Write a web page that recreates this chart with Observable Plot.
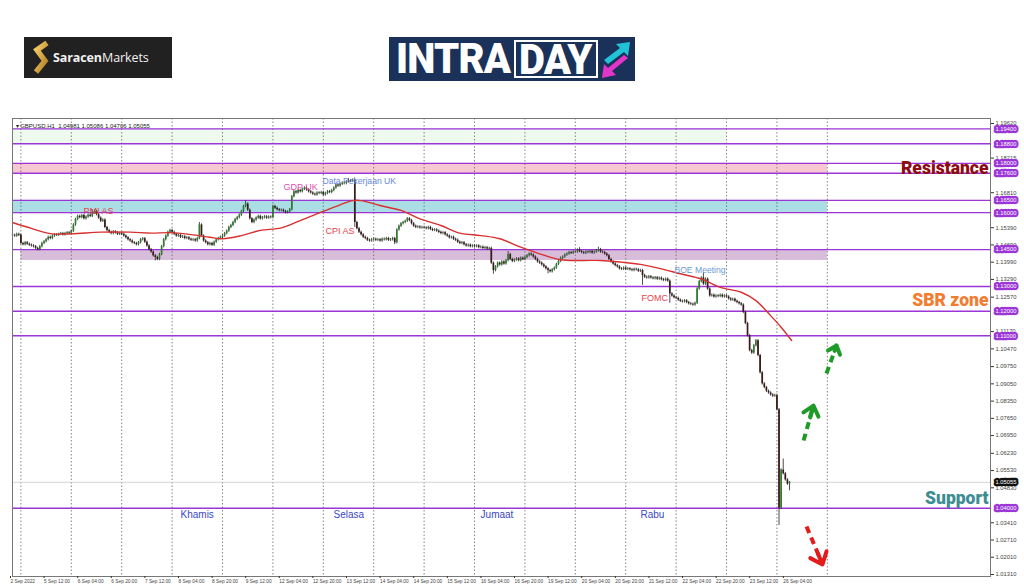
<!DOCTYPE html>
<html><head><meta charset="utf-8">
<script src="https://cdn.jsdelivr.net/npm/d3@7"></script>
<script src="https://cdn.jsdelivr.net/npm/@observablehq/plot@0.6"></script>
<style>
html,body{margin:0;padding:0;background:#fff;width:1024px;height:587px;overflow:hidden;font-family:"Liberation Sans",Arial,sans-serif;}
#hdr{position:relative;height:110px;}
#sar{position:absolute;left:24px;top:37px;width:148px;height:41px;background:#212121;}
#sar .t{position:absolute;left:29px;top:12px;color:#f2f2f2;font-family:"Open Sans","Noto Sans",sans-serif;font-size:12.5px;letter-spacing:-0.1px;white-space:nowrap;}
#sar .t b{font-weight:700;}
#intra{position:absolute;left:389px;top:37px;width:246px;height:44px;background:#1a3159;}
#intra .a{position:absolute;left:7px;top:1px;color:#fff;font-family:Roboto,"Liberation Sans",sans-serif;font-weight:900;font-size:40px;line-height:42px;letter-spacing:-0.8px;transform:scaleY(1.08);}
#intra .d{position:absolute;left:125px;top:3px;width:80px;height:34px;border:2.5px solid #fff;box-sizing:content-box;}
#intra .d span{position:absolute;left:3px;top:-3px;color:#fff;font-family:Roboto,"Liberation Sans",sans-serif;font-weight:900;font-size:40px;line-height:42px;letter-spacing:-0.8px;transform:scaleY(1.08);}
#intra svg{position:absolute;left:211px;top:3px;}
#chart{position:absolute;left:0;top:110px;}
</style></head><body>
<div id="hdr">
  <div id="sar">
    <svg width="28" height="41" style="position:absolute;left:6px;top:0">
      <defs><linearGradient id="g" x1="0" y1="0" x2="1" y2="1"><stop offset="0" stop-color="#f6d06a"/><stop offset="1" stop-color="#b07a1c"/></linearGradient></defs>
      <polyline points="17,6 7,13 15,24 6,35" fill="none" stroke="url(#g)" stroke-width="5.5" stroke-linejoin="miter"/>
    </svg>
    <div class="t"><b>Saracen</b>Markets</div>
  </div>
  <div id="intra">
    <div class="a">INTRA</div>
    <div class="d"><span>DAY</span></div>
    <svg width="33" height="40">
      <polygon points="4,20 20,8 16,4 30,2 28,16 24,12 8,24" fill="#21c4d6"/>
      <polygon points="28,18 12,31 16,35 2,38 4,24 8,28 24,15" fill="#e236c8"/>
    </svg>
  </div>
</div>
<div id="chart"></div>
<script>
// ---- chart header text
const headerText = "\u25BE GBPUSD,H1  1.04981 1.05086 1.04706 1.05055";

// ---- hourly closes (server time), one array per trading day
const c0902 = [1.1508,1.1505,1.1512,1.1508];
const c0905 = [1.1475,1.1470,1.1478,1.1472,1.1468,1.1465,1.1462,1.1455,1.1450,1.1462,1.1475,1.1482,1.1490,1.1500,1.1495,1.1505,1.1510,1.1508,1.1512,1.1515,1.1510,1.1515,1.1518,1.1515];
const c0906 = [1.1525,1.1550,1.1572,1.1585,1.1580,1.1588,1.1575,1.1582,1.1590,1.1585,1.1598,1.1605,1.1592,1.1578,1.1565,1.1570,1.1540,1.1528,1.1520,1.1515,1.1522,1.1518,1.1512,1.1515];
const c0907 = [1.1512,1.1505,1.1498,1.1490,1.1485,1.1478,1.1475,1.1470,1.1478,1.1490,1.1494,1.1480,1.1465,1.1450,1.1440,1.1425,1.1418,1.1410,1.1430,1.1462,1.1490,1.1505,1.1520,1.1528];
const c0908 = [1.1520,1.1512,1.1505,1.1508,1.1500,1.1502,1.1495,1.1498,1.1492,1.1488,1.1490,1.1485,1.1495,1.1550,1.1505,1.1485,1.1478,1.1470,1.1475,1.1468,1.1480,1.1490,1.1495,1.1500];
const c0909 = [1.1505,1.1515,1.1525,1.1540,1.1548,1.1560,1.1572,1.1580,1.1590,1.1605,1.1625,1.1635,1.1610,1.1575,1.1560,1.1570,1.1578,1.1585,1.1575,1.1580,1.1583,1.1578,1.1582,1.1580];
const c0912 = [1.1625,1.1618,1.1612,1.1608,1.1610,1.1605,1.1600,1.1603,1.1612,1.1665,1.1685,1.1680,1.1690,1.1685,1.1695,1.1700,1.1692,1.1685,1.1680,1.1675,1.1672,1.1680,1.1678,1.1682];
const c0913 = [1.1672,1.1678,1.1685,1.1682,1.1690,1.1700,1.1712,1.1708,1.1715,1.1720,1.1718,1.1725,1.1730,1.1728,1.1732,1.1560,1.1535,1.1520,1.1510,1.1500,1.1495,1.1488,1.1485,1.1490];
const c0914 = [1.1492,1.1488,1.1490,1.1485,1.1492,1.1490,1.1495,1.1488,1.1490,1.1495,1.1478,1.1530,1.1545,1.1555,1.1560,1.1565,1.1575,1.1568,1.1555,1.1545,1.1540,1.1542,1.1538,1.1540];
const c0915 = [1.1538,1.1535,1.1540,1.1532,1.1528,1.1530,1.1525,1.1520,1.1515,1.1518,1.1510,1.1505,1.1498,1.1500,1.1492,1.1488,1.1480,1.1475,1.1478,1.1470,1.1465,1.1468,1.1462,1.1465];
const c0916 = [1.1462,1.1465,1.1458,1.1460,1.1455,1.1458,1.1452,1.1455,1.1395,1.1365,1.1380,1.1395,1.1388,1.1400,1.1392,1.1405,1.1430,1.1410,1.1402,1.1408,1.1412,1.1405,1.1415,1.1410];
const c0919 = [1.1418,1.1425,1.1432,1.1428,1.1420,1.1410,1.1400,1.1395,1.1388,1.1380,1.1372,1.1365,1.1360,1.1368,1.1375,1.1390,1.1402,1.1415,1.1420,1.1428,1.1432,1.1438,1.1435,1.1440];
const c0920 = [1.1440,1.1448,1.1442,1.1438,1.1435,1.1440,1.1438,1.1442,1.1436,1.1440,1.1445,1.1450,1.1440,1.1438,1.1432,1.1425,1.1410,1.1400,1.1392,1.1385,1.1380,1.1372,1.1370,1.1375];
const c0921 = [1.1370,1.1372,1.1368,1.1365,1.1370,1.1368,1.1362,1.1365,1.1345,1.1338,1.1335,1.1340,1.1335,1.1332,1.1336,1.1330,1.1334,1.1328,1.1325,1.1330,1.1322,1.1270,1.1262,1.1255];
const c0922 = [1.1252,1.1245,1.1240,1.1238,1.1242,1.1235,1.1230,1.1228,1.1225,1.1232,1.1290,1.1320,1.1335,1.1310,1.1330,1.1290,1.1262,1.1265,1.1258,1.1262,1.1260,1.1265,1.1258,1.1262];
const c0923 = [1.1258,1.1250,1.1245,1.1248,1.1240,1.1235,1.1230,1.1225,1.1195,1.1150,1.1100,1.1040,1.1030,1.1060,1.1080,1.1020,1.0950,1.0905,1.0890,1.0875,1.0868,1.0860,1.0855,1.0858];
const c0926 = [1.0800,1.0400,1.0555,1.0540,1.0515,1.04981,1.05055];
const firstOpen = 1.1510;
const wickPad = 0.0005;
// notable wick extremes: [bar, high, low]
const extremes = [[38,1.1612,null],[68,null,1.1404],[89,1.1560,null],[111,1.1648,null],[160,1.1738,null],[163,null,1.1540],[182,null,1.1470],[229,null,1.1350],[236,1.1442,null],[255,null,1.1352],[270,1.1458,null],[279,1.1460,null],[300,null,1.1305],[313,null,1.1232],[329,1.1356,null],[365,null,1.0330],[367,1.0600,null],[370,1.05086,1.04706]];

// moving average (red line)
const maBar = [0,9,18,28,42,56,66,75,85,94,100,109,118,128,137,147,156,162,166,175,185,194,204,213,223,232,242,251,261,271,280,290,299,309,318,328,337,347,354,361,366,371];
const maVal = [1.1560,1.1536,1.1515,1.1514,1.1521,1.1521,1.1517,1.1519,1.1511,1.1500,1.1494,1.1507,1.1528,1.1538,1.1568,1.1602,1.1632,1.1649,1.1649,1.1629,1.1609,1.1575,1.1548,1.1517,1.1507,1.1494,1.1460,1.1433,1.1409,1.1406,1.1406,1.1399,1.1390,1.1372,1.1352,1.1331,1.1297,1.1277,1.1243,1.1182,1.1135,1.1081];

// levels and zones
const levels = [1.194,1.188,1.180,1.176,1.165,1.160,1.145,1.130,1.120,1.110,1.040];
const zones = [
  {from:0, to:340, lo:1.188, hi:1.194, color:"#eefaee"},
  {from:0, to:388, lo:1.176, hi:1.180, color:"#f8c8d2"},
  {from:0, to:388, lo:1.160, hi:1.165, color:"#aadde4"},
  {from:4, to:388, lo:1.1406, hi:1.145, color:"#d8bddb"}
];
const lastPrice = 1.05055;

// axes
const yTicks = [1.19620,1.18215,1.16810,1.15390,1.14690,1.13990,1.13290,1.12570,1.11170,1.10470,1.09750,1.09050,1.08350,1.07650,1.06950,1.06230,1.05530,1.04830,1.03410,1.02710,1.02010,1.01310];
const tickBars = [0,16,32,48,64,80,96,112,128,144,160,176,192,208,224,240,256,272,288,304,320,336,352,368];
const dateLabels = ["2 Sep 2022","5 Sep 12:00","6 Sep 04:00","6 Sep 20:00","7 Sep 12:00","8 Sep 04:00","8 Sep 20:00","9 Sep 12:00","12 Sep 04:00","12 Sep 20:00","13 Sep 12:00","14 Sep 04:00","14 Sep 20:00","15 Sep 12:00","16 Sep 04:00","16 Sep 20:00","19 Sep 12:00","20 Sep 04:00","20 Sep 20:00","21 Sep 12:00","22 Sep 04:00","22 Sep 20:00","23 Sep 12:00","26 Sep 04:00"];
const daySeps = [4,28,52,76,100,124,148,172,196,220,244,268,292,316,340,364,388];

// annotations
const notes = [
  {bar:33.8, price:1.1605, label:"PMI AS", color:"#e8434b", size:9},
  {bar:129, price:1.1702, label:"GDP UK", color:"#e04fae", size:9},
  {bar:147.6, price:1.1727, label:"Data Pekerjaan UK", color:"#6688d8", size:8.6},
  {bar:149, price:1.1524, label:"CPI AS", color:"#e8434b", size:9},
  {bar:299.5, price:1.1252, label:"FOMC", color:"#e8434b", size:9},
  {bar:315.2, price:1.1365, label:"BOE Meeting", color:"#6b9bd1", size:8.6}
];
const dayNames = [
  {bar:80, price:1.0375, label:"Khamis"},
  {bar:152.9, price:1.0375, label:"Selasa"},
  {bar:222.9, price:1.0375, label:"Jumaat"},
  {bar:299, price:1.0375, label:"Rabu"}
];
const sideLabels = [
  {price:1.1779, label:"Resistance", color:"#8e0b12"},
  {price:1.1243, label:"SBR zone", color:"#f27c30"},
  {price:1.0440, label:"Support", color:"#3c8d93"}
];
const upArrows = [
  {x1:387.6, y1:1.0947, x2:392.4, y2:1.1061},
  {x1:376.7, y1:1.0675, x2:381.4, y2:1.0817}
];
const downArrows = [
  {x1:378.1, y1:1.0326, x2:385.7, y2:1.0172}
];

// ---- build candles
const closes = [].concat(c0902,c0905,c0906,c0907,c0908,c0909,c0912,c0913,c0914,c0915,c0916,c0919,c0920,c0921,c0922,c0923,c0926);
const extMap = new Map(extremes.map(e => [e[0], e]));
const candles = closes.map((c, i) => {
  const o = i === 0 ? firstOpen : closes[i - 1];
  const e = extMap.get(i);
  const hi = e && e[1] != null ? e[1] : Math.max(o, c) + wickPad;
  const lo = e && e[2] != null ? e[2] : Math.min(o, c) - wickPad;
  return {i, o, c, hi, lo};
});
const ma = maBar.map((b, k) => ({b, v: maVal[k]}));

const purple = "#9b35d6";
const bull = "#2f7d2f", bear = "#3a1a1a";

const chart = Plot.plot({
  width: 1024, height: 477,
  marginTop: 8, marginBottom: 11, marginLeft: 12, marginRight: 34,
  x: {domain: [0, 465.7], axis: null},
  y: {domain: [1.01229, 1.19823], axis: null},
  color: {type: "identity"},
  style: {fontFamily: "'Liberation Sans', Arial, sans-serif", background: "transparent", color: "#333", overflow: "visible"},
  marks: [
    Plot.rect(zones, {x1: "from", x2: "to", y1: "lo", y2: "hi", fill: "color"}),
    Plot.ruleX(daySeps, {stroke: "#666", strokeWidth: 0.8, strokeDasharray: "1.5,2"}),
    Plot.ruleY(levels, {stroke: purple, strokeWidth: 1.4}),
    Plot.ruleY([lastPrice], {stroke: "#c9c9c9", strokeWidth: 0.8}),
    Plot.ruleX(candles, {x: "i", y1: "lo", y2: "hi", stroke: "#1e1e1e", strokeWidth: 0.8}),
    Plot.ruleX(candles, {x: "i", y1: "o", y2: "c", stroke: d => d.c >= d.o ? bull : bear, strokeWidth: 1.7}),
    Plot.line(ma, {x: "b", y: "v", stroke: "#d8302f", strokeWidth: 1.4, curve: "catmull-rom"}),
    Plot.text(notes, {x: "bar", y: "price", text: "label", fill: "color", fontSize: d => d.size, textAnchor: "start"}),
    Plot.text(dayNames, {x: "bar", y: "price", text: "label", fill: "#3a48c6", fontSize: 10, textAnchor: "start"}),
    Plot.text(sideLabels, {y: "price", frameAnchor: "right", dx: -2, text: "label", fill: "color", textAnchor: "end", fontSize: 17.5, fontWeight: 900, fontFamily: "Roboto, 'Liberation Sans', sans-serif"}),
    Plot.link(upArrows, {x1: "x1", y1: "y1", x2: "x2", y2: "y2", stroke: "#1f9a28", strokeWidth: 4, strokeDasharray: "7,5"}),
    Plot.arrow(upArrows, {x1: "x1", y1: "y1", x2: "x2", y2: "y2", stroke: "#1f9a28", strokeWidth: 4, headLength: 11, headAngle: 80, insetStart: 24}),
    Plot.link(downArrows, {x1: "x1", y1: "y1", x2: "x2", y2: "y2", stroke: "#e31b1b", strokeWidth: 4, strokeDasharray: "7,5"}),
    Plot.arrow(downArrows, {x1: "x1", y1: "y1", x2: "x2", y2: "y2", stroke: "#e31b1b", strokeWidth: 4, headLength: 11, headAngle: 80, insetStart: 30}),
    Plot.text([headerText], {frameAnchor: "top-left", dx: 3, dy: 5, fontSize: 6, fill: "#222"}),
    Plot.frame({stroke: "#777", strokeWidth: 1}),
    Plot.axisY(yTicks, {anchor: "right", tickFormat: d => d.toFixed(5), tickSize: 3, tickPadding: 2, fontSize: 5.8, fill: "#444"}),
    Plot.axisX(tickBars, {tickFormat: d => dateLabels[tickBars.indexOf(d)], textAnchor: "start", tickSize: 2, tickPadding: 1, fontSize: 4.8, dx: -2, fill: "#444"}),
    Plot.text(levels, {y: d => d, frameAnchor: "right", dx: 5, textAnchor: "start", text: d => d.toFixed(5), fontSize: 5.8, fill: "#fff", stroke: purple, strokeWidth: 4.5}),
    Plot.text([lastPrice], {y: d => d, frameAnchor: "right", dx: 5, textAnchor: "start", text: d => d.toFixed(5), fontSize: 5.8, fill: "#fff", stroke: "#111", strokeWidth: 4.5})
  ]
});
document.getElementById("chart").appendChild(chart);
</script>
</body></html>
